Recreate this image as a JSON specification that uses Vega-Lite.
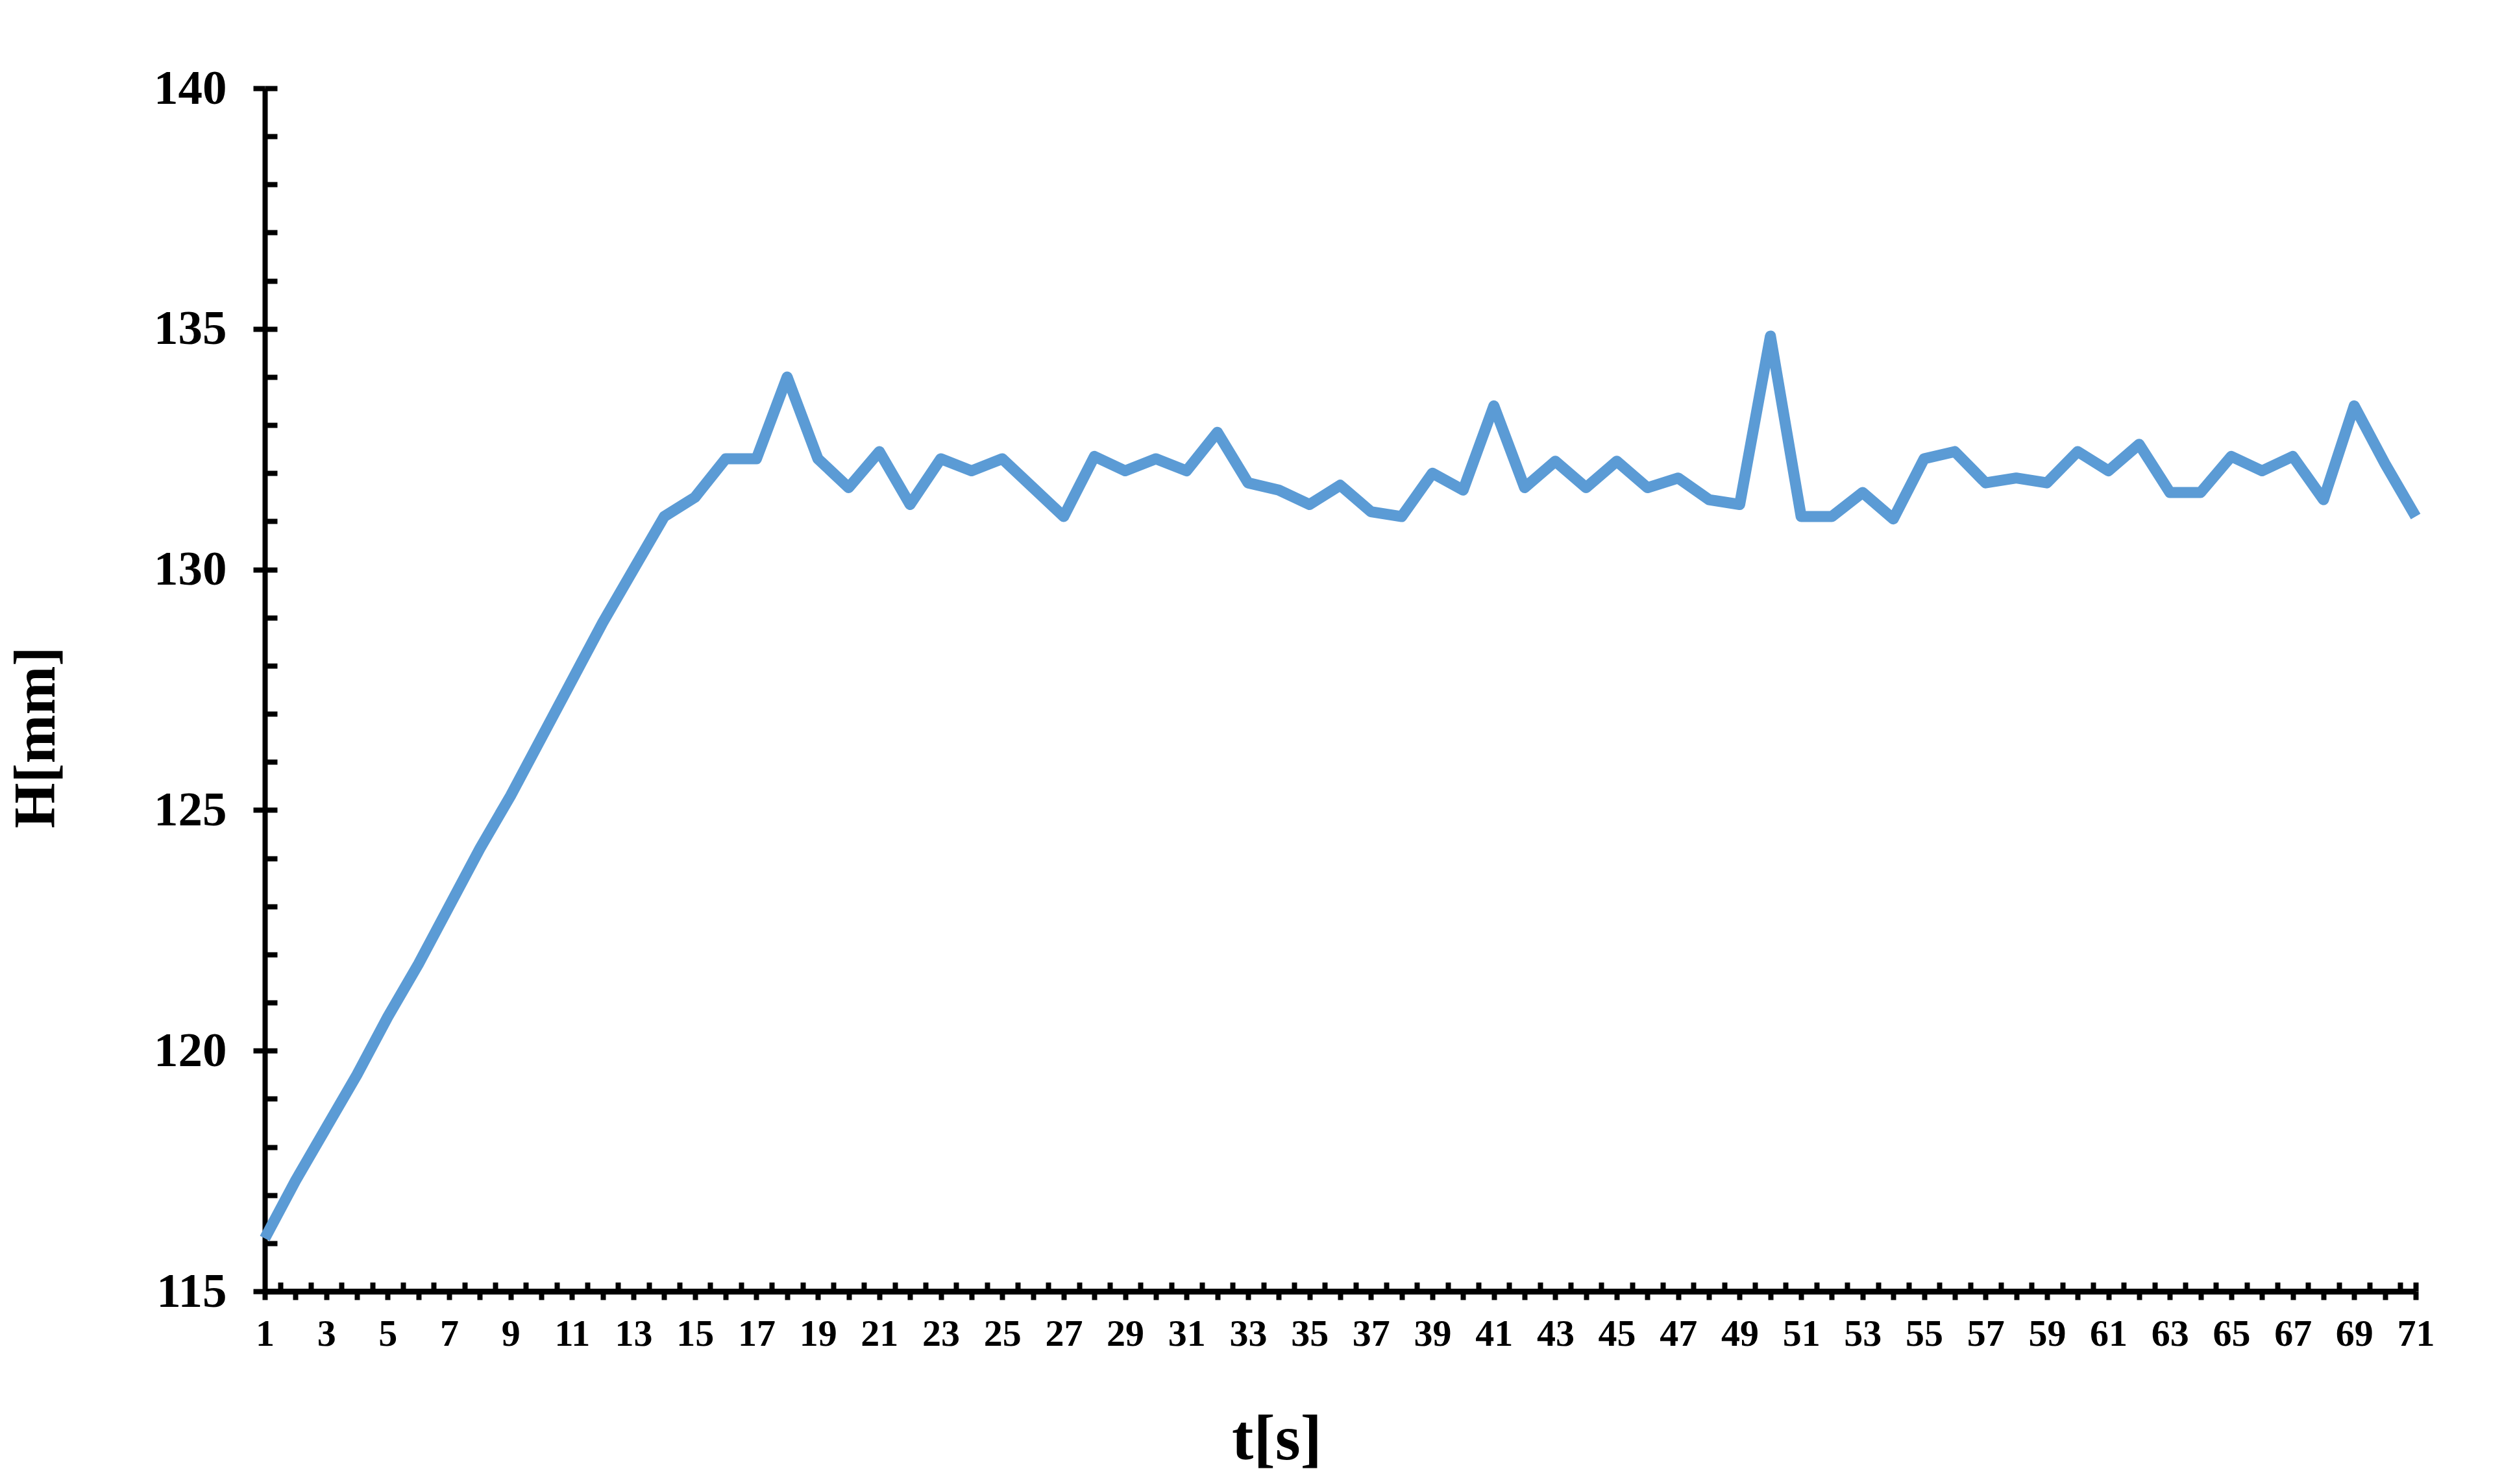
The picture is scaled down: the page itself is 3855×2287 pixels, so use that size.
{
  "$schema": "https://vega.github.io/schema/vega-lite/v6.json",
  "width": 3314,
  "height": 1854,
  "autosize": "none",
  "padding": {"left": 408, "top": 136, "right": 133, "bottom": 297},
  "background": "white",
  "config": {
    "view": {"stroke": null},
    "axis": {
      "grid": false,
      "labelFont": "Liberation Serif",
      "labelFontWeight": "bold",
      "labelColor": "black",
      "titleFont": "Liberation Serif",
      "titleFontWeight": "bold",
      "titleColor": "black",
      "domainColor": "black",
      "tickColor": "black",
      "labelFlush": false,
      "labelOverlap": false,
      "labelBound": false
    }
  },
  "data": {
    "values": [
      {"t": 1, "H": 116.1}, {"t": 2, "H": 117.3}, {"t": 3, "H": 118.4}, {"t": 4, "H": 119.5},
      {"t": 5, "H": 120.7}, {"t": 6, "H": 121.8}, {"t": 7, "H": 123.0}, {"t": 8, "H": 124.2},
      {"t": 9, "H": 125.3}, {"t": 10, "H": 126.5}, {"t": 11, "H": 127.7}, {"t": 12, "H": 128.9},
      {"t": 13, "H": 130.0}, {"t": 14, "H": 131.1}, {"t": 15, "H": 131.5}, {"t": 16, "H": 132.3},
      {"t": 17, "H": 132.3}, {"t": 18, "H": 134.0}, {"t": 19, "H": 132.3}, {"t": 20, "H": 131.7},
      {"t": 21, "H": 132.45}, {"t": 22, "H": 131.35}, {"t": 23, "H": 132.3}, {"t": 24, "H": 132.05},
      {"t": 25, "H": 132.3}, {"t": 26, "H": 131.7}, {"t": 27, "H": 131.1}, {"t": 28, "H": 132.35},
      {"t": 29, "H": 132.05}, {"t": 30, "H": 132.3}, {"t": 31, "H": 132.05}, {"t": 32, "H": 132.85},
      {"t": 33, "H": 131.8}, {"t": 34, "H": 131.65}, {"t": 35, "H": 131.35}, {"t": 36, "H": 131.75},
      {"t": 37, "H": 131.2}, {"t": 38, "H": 131.1}, {"t": 39, "H": 132.0}, {"t": 40, "H": 131.65},
      {"t": 41, "H": 133.4}, {"t": 42, "H": 131.7}, {"t": 43, "H": 132.25}, {"t": 44, "H": 131.7},
      {"t": 45, "H": 132.25}, {"t": 46, "H": 131.7}, {"t": 47, "H": 131.9}, {"t": 48, "H": 131.45},
      {"t": 49, "H": 131.35}, {"t": 50, "H": 134.85}, {"t": 51, "H": 131.1}, {"t": 52, "H": 131.1},
      {"t": 53, "H": 131.6}, {"t": 54, "H": 131.05}, {"t": 55, "H": 132.3}, {"t": 56, "H": 132.45},
      {"t": 57, "H": 131.8}, {"t": 58, "H": 131.9}, {"t": 59, "H": 131.8}, {"t": 60, "H": 132.45},
      {"t": 61, "H": 132.05}, {"t": 62, "H": 132.6}, {"t": 63, "H": 131.6}, {"t": 64, "H": 131.6},
      {"t": 65, "H": 132.35}, {"t": 66, "H": 132.05}, {"t": 67, "H": 132.35}, {"t": 68, "H": 131.45},
      {"t": 69, "H": 133.4}, {"t": 70, "H": 132.2}, {"t": 71, "H": 131.1}
    ]
  },
  "layer": [
    {
      "mark": {"type": "point", "opacity": 0},
      "encoding": {
        "x": {
          "field": "t", "type": "quantitative",
          "scale": {"domain": [1, 71], "nice": false, "zero": false},
          "axis": {
            "orient": "bottom",
            "values": [1.5,2.5,3.5,4.5,5.5,6.5,7.5,8.5,9.5,10.5,11.5,12.5,13.5,14.5,15.5,16.5,17.5,18.5,19.5,20.5,21.5,22.5,23.5,24.5,25.5,26.5,27.5,28.5,29.5,30.5,31.5,32.5,33.5,34.5,35.5,36.5,37.5,38.5,39.5,40.5,41.5,42.5,43.5,44.5,45.5,46.5,47.5,48.5,49.5,50.5,51.5,52.5,53.5,54.5,55.5,56.5,57.5,58.5,59.5,60.5,61.5,62.5,63.5,64.5,65.5,66.5,67.5,68.5,69.5,70.5,71],
            "labels": false, "domain": false, "title": null,
            "tickSize": -14, "tickWidth": 8
          }
        },
        "y": {
          "field": "H", "type": "quantitative",
          "scale": {"domain": [115, 140], "nice": false, "zero": false},
          "axis": {
            "orient": "left",
            "values": [115,116,117,118,119,120,121,122,123,124,125,126,127,128,129,130,131,132,133,134,135,136,137,138,139,140],
            "labels": false, "domain": false, "title": null,
            "tickSize": -19, "tickWidth": 8
          }
        }
      }
    },
    {
      "mark": {"type": "line", "color": "#5B9BD5", "strokeWidth": 17, "strokeJoin": "round", "strokeCap": "butt"},
      "encoding": {
        "x": {
          "field": "t", "type": "quantitative",
          "scale": {"domain": [1, 71], "nice": false, "zero": false},
          "axis": {
            "orient": "bottom",
            "values": [1,2,3,4,5,6,7,8,9,10,11,12,13,14,15,16,17,18,19,20,21,22,23,24,25,26,27,28,29,30,31,32,33,34,35,36,37,38,39,40,41,42,43,44,45,46,47,48,49,50,51,52,53,54,55,56,57,58,59,60,61,62,63,64,65,66,67,68,69,70,71],
            "labelExpr": "datum.value % 2 == 1 ? datum.label : ''",
            "format": "d",
            "labelFontSize": 58,
            "labelPadding": 24,
            "labelAngle": 0,
            "tickSize": 13, "tickWidth": 8,
            "domainWidth": 9,
            "title": "t[s]",
            "titleFontSize": 100,
            "titleX": 1559,
            "titleY": 258,
            "titleAlign": "center",
            "titleBaseline": "alphabetic",
            "titleAnchor": null
          }
        },
        "y": {
          "field": "H", "type": "quantitative",
          "scale": {"domain": [115, 140], "nice": false, "zero": false},
          "axis": {
            "orient": "left",
            "values": [115, 120, 125, 130, 135, 140],
            "format": "d",
            "labelFontSize": 75,
            "labelPadding": 41,
            "tickSize": 18, "tickWidth": 8,
            "domainWidth": 8,
            "title": "H[mm]",
            "titleFontSize": 90,
            "titleAngle": -90,
            "titleX": -325,
            "titleY": 1000,
            "titleAlign": "center",
            "titleBaseline": "alphabetic",
            "titleAnchor": null
          }
        }
      }
    }
  ],
  "resolve": {"axis": {"x": "independent", "y": "independent"}}
}
